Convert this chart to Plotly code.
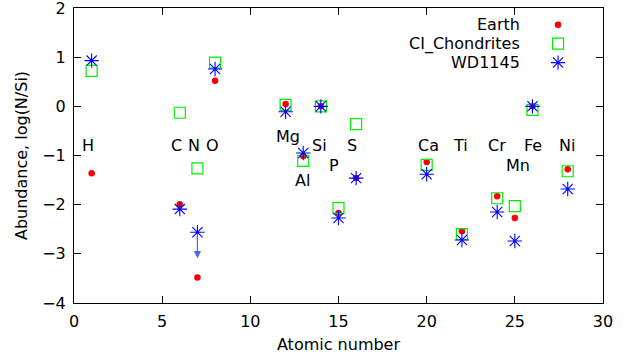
import plotly.graph_objects as go

# Atomic numbers of the elements plotted
atomic_number = [1, 6, 7, 8, 12, 13, 14, 15, 16, 20, 22, 24, 25, 26, 28]
element = ["H", "C", "N", "O", "Mg", "Al", "Si", "P", "S", "Ca", "Ti", "Cr", "Mn", "Fe", "Ni"]

# log(N/Si) abundances
earth = [-1.36, -1.99, -3.48, 0.52, 0.05, -1.01, 0.0, -2.17, -1.46, -1.13, -2.54, -1.83, -2.27, 0.0, -1.28]
ci_chondrites = [0.72, -0.13, -1.26, 0.89, 0.03, -1.11, 0.0, -2.07, -0.36, -1.19, -2.60, -1.87, -2.03, -0.07, -1.32]
wd1145 = [0.93, -2.09, -2.56, 0.76, -0.11, -0.95, 0.0, -2.27, -1.46, -1.38, -2.72, -2.15, -2.74, 0.0, -1.68]

# WD1145 nitrogen is an upper limit
limit_z = 7
limit_value = -2.56
limit_arrow_to = -3.09

# Element label placement (data coordinates)
label_x = [0.79, 5.79, 6.81, 7.83, 12.14, 12.93, 13.9, 14.75, 15.77, 20.08, 21.9, 24.0, 25.18, 26.03, 27.96]
label_y = [-0.80, -0.80, -0.80, -0.80, -0.61, -1.50, -0.80, -1.20, -0.80, -0.80, -0.80, -0.80, -1.20, -0.80, -0.80]

FONT = "DejaVu Sans"
RED = "#ff0000"
GREEN = "#00ee00"
BLUE = "#0000ff"

fig = go.Figure()

fig.add_trace(go.Scatter(
    x=atomic_number, y=earth, mode="markers", name="Earth",
    marker=dict(symbol="circle", size=6.5, color=RED, line=dict(width=0)),
))
fig.add_trace(go.Scatter(
    x=atomic_number, y=ci_chondrites, mode="markers", name="CI_Chondrites",
    marker=dict(symbol="square-open", size=11, color=GREEN, line=dict(width=1.2, color=GREEN)),
))
fig.add_trace(go.Scatter(
    x=atomic_number, y=wd1145, mode="markers", name="WD1145",
    marker=dict(symbol="asterisk-open", size=12, color=BLUE, line=dict(width=1.1, color=BLUE)),
))

# Key on the upper right: right-aligned text with the sample to its right
key_names = ["Earth", "CI_Chondrites", "WD1145"]
key_rows = [0.943, 0.879, 0.815]
key_markers = [
    dict(symbol="circle", size=6.5, color=RED, line=dict(width=0)),
    dict(symbol="square-open", size=11, color=GREEN, line=dict(width=1.2, color=GREEN)),
    dict(symbol="asterisk-open", size=12, color=BLUE, line=dict(width=1.1, color=BLUE)),
]
for name, row, mk in zip(key_names, key_rows, key_markers):
    fig.add_trace(go.Scatter(
        x=[0.915], y=[row], xaxis="x2", yaxis="y2", mode="markers",
        marker=mk, showlegend=False, hoverinfo="skip",
    ))
    fig.add_annotation(
        x=0.847, y=row, xref="paper", yref="paper", text=name,
        showarrow=False, xanchor="right", yanchor="middle",
        font=dict(family=FONT, size=16, color="black"),
    )

# Element symbols
for sym, lx, ly in zip(element, label_x, label_y):
    fig.add_annotation(
        x=lx, y=ly, xref="x", yref="y", text=sym, showarrow=False,
        xanchor="center", yanchor="middle",
        font=dict(family=FONT, size=16, color="black"),
    )

# Upper-limit arrow for WD1145 nitrogen
fig.add_annotation(
    x=limit_z, y=limit_arrow_to, ax=limit_z, ay=limit_value,
    xref="x", yref="y", axref="x", ayref="y", text="",
    showarrow=True, arrowhead=2, arrowsize=1.2, arrowwidth=1.2,
    arrowcolor="#4466ff", standoff=0, startstandoff=0,
)

axis_common = dict(
    showgrid=False, zeroline=False, showline=True, linecolor="black", linewidth=1,
    mirror="ticks", ticks="inside", ticklen=7, tickcolor="black", tickwidth=1,
    tickfont=dict(family=FONT, size=16, color="black"),
    ticklabeloverflow="allow", automargin=False,
)

fig.update_layout(
    width=639, height=361,
    margin=dict(l=74, r=36, t=8, b=58),
    paper_bgcolor="white", plot_bgcolor="white",
    showlegend=False,
    font=dict(family=FONT, size=16, color="black"),
    xaxis=dict(
        range=[0, 30], tickvals=[0, 5, 10, 15, 20, 25, 30],
        title=dict(text="Atomic number", font=dict(family=FONT, size=16), standoff=8),
        ticklabelstandoff=4,
        **axis_common,
    ),
    yaxis=dict(
        range=[-4, 2], tickvals=[-4, -3, -2, -1, 0, 1, 2],
        title=dict(text="Abundance, log(N/Si)", font=dict(family=FONT, size=16), standoff=10),
        ticklabelstandoff=4,
        **axis_common,
    ),
    xaxis2=dict(range=[0, 1], overlaying="x", visible=False, fixedrange=True),
    yaxis2=dict(range=[0, 1], overlaying="y", visible=False, fixedrange=True),
)

fig.write_html("out.html")
